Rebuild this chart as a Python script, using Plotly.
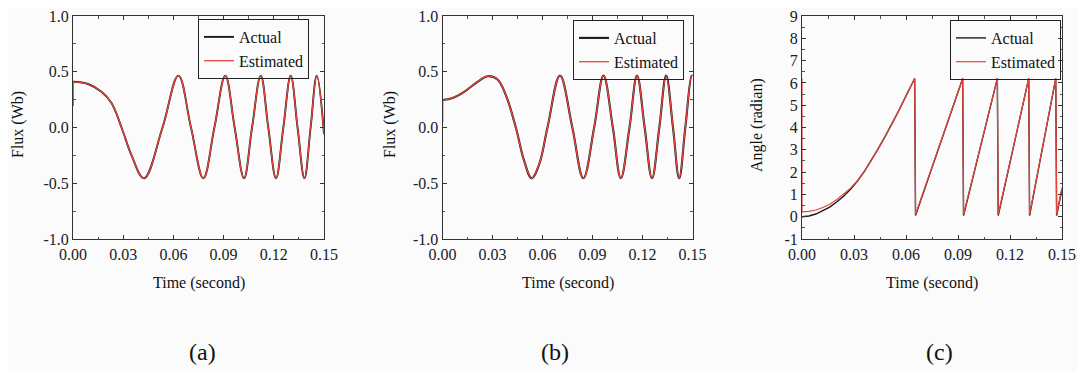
import plotly.graph_objects as go

# ---------------- data ----------------
# Panel (a): flux alpha
t_flux_a = [0, 0.009, 0.017, 0.023, 0.029, 0.035, 0.0424, 0.0535, 0.063, 0.0705,
            0.0779, 0.0845, 0.091, 0.0966, 0.1022, 0.107, 0.1122, 0.1167, 0.1213,
            0.1257, 0.1301, 0.1342, 0.1383, 0.142, 0.1457, 0.15]
flux_a_actual = [0.41, 0.39, 0.32, 0.22, 0.0, -0.25, -0.455, 0.0, 0.465, 0.0,
                 -0.455, 0.0, 0.465, 0.0, -0.455, 0.0, 0.465, 0.0, -0.455,
                 0.0, 0.465, 0.0, -0.455, 0.0, 0.465, -0.06]
flux_a_estimated = [0.41, 0.39, 0.32, 0.22, 0.0, -0.25, -0.455, 0.0, 0.465, 0.0,
                    -0.455, 0.0, 0.465, 0.0, -0.455, 0.0, 0.465, 0.0, -0.455,
                    0.0, 0.465, 0.0, -0.455, 0.0, 0.465, -0.06]
flux_a_est_start = [0.19, 0.41]   # initial transient of the estimate at t = 0

# Panel (b): flux beta
t_flux_b = [0, 0.006, 0.013, 0.021, 0.0273, 0.033, 0.038, 0.044, 0.049, 0.0535,
            0.058, 0.063, 0.0705, 0.0779, 0.0845, 0.091, 0.0966, 0.1022, 0.107,
            0.1122, 0.1167, 0.1213, 0.1257, 0.1301, 0.1342, 0.1383, 0.142,
            0.1457, 0.1495, 0.15]
flux_b_actual = [0.246, 0.265, 0.32, 0.41, 0.46, 0.43, 0.29, 0.0, -0.3, -0.455,
                 -0.33, 0.0, 0.465, 0.0, -0.455, 0.0, 0.465, 0.0, -0.455,
                 0.0, 0.465, 0.0, -0.455, 0.0, 0.465, 0.0, -0.455,
                 0.0, 0.465, 0.46]
flux_b_estimated = [0.246, 0.265, 0.32, 0.41, 0.46, 0.43, 0.29, 0.0, -0.3, -0.455,
                    -0.33, 0.0, 0.465, 0.0, -0.455, 0.0, 0.465, 0.0, -0.455,
                    0.0, 0.465, 0.0, -0.455, 0.0, 0.465, 0.0, -0.455,
                    0.0, 0.465, 0.46]
flux_b_est_start = [0.05, 0.246]

# Panel (c): rotor flux angle
t_angle_actual = [0, 0.004, 0.008, 0.012, 0.016, 0.02, 0.024, 0.028, 0.032, 0.036,
                  0.04, 0.044, 0.048, 0.052, 0.056, 0.06, 0.065, 0.0655,
                  0.0927, 0.0932, 0.1127, 0.1132, 0.1308, 0.1313, 0.1464, 0.1469, 0.15]
angle_actual = [0.0, 0.03, 0.12, 0.26, 0.43, 0.66, 0.92, 1.23, 1.6, 2.03,
                2.52, 3.05, 3.6, 4.17, 4.78, 5.42, 6.2, 0.05,
                6.2, 0.05, 6.2, 0.05, 6.2, 0.05, 6.2, 0.05, 1.25]
t_angle_estimated = [0, 0, 0.004, 0.008, 0.012, 0.016, 0.02, 0.024, 0.028, 0.032, 0.036,
                     0.04, 0.044, 0.048, 0.052, 0.056, 0.06, 0.065, 0.0655,
                     0.0927, 0.0932, 0.1127, 0.1132, 0.1308, 0.1313, 0.1464, 0.1469, 0.15]
angle_estimated = [6.2, 0.22, 0.24, 0.3, 0.41, 0.56, 0.76, 1.0, 1.28, 1.62, 2.04,
                   2.52, 3.05, 3.6, 4.17, 4.78, 5.42, 6.2, 0.1,
                   6.2, 0.1, 6.2, 0.1, 6.2, 0.1, 6.2, 0.1, 1.3]

# axis ticks / labels
x_ticks = [0, 0.03, 0.06, 0.09, 0.12, 0.15]
x_ticktext = ["0.00", "0.03", "0.06", "0.09", "0.12", "0.15"]
flux_ticks = [-1.0, -0.5, 0.0, 0.5, 1.0]
flux_ticktext = ["-1.0", "-0.5", "0.0", "0.5", "1.0"]
angle_ticks = [-1, 0, 1, 2, 3, 4, 5, 6, 7, 8, 9]
angle_ticktext = ["-1", "0", "1", "2", "3", "4", "5", "6", "7", "8", "9"]
panel_labels = ["(a)", "(b)", "(c)"]
y_titles = ["Flux (Wb)", "Flux (Wb)", "Angle (radian)"]
x_title = "Time (second)"
series_names = ["Actual", "Estimated"]

# ---------------- styling ----------------
W, H = 1085, 371
OFF = 8          # the page body offsets the figure by 8 px
FONT = "Liberation Serif"
BLACK = "#1b1b1b"
RED = "#e8453c"
BG = "#fbfbfc"

def px_x(p):
    return (p - OFF) / W

def px_y(p):
    return 1 - (p - OFF) / H

dom_x = [(73, 324), (442.5, 692.5), (802, 1062)]
dom_y = (16, 239)

fig = go.Figure()

BW, RW = 1.9, 1.3   # black (actual) drawn underneath, red (estimate) on top

# panel (a)
fig.add_trace(go.Scatter(x=t_flux_a, y=flux_a_actual, mode="lines", name=series_names[0],
                         line=dict(color=BLACK, width=BW, shape="spline", smoothing=1.1),
                         xaxis="x", yaxis="y", legend="legend", legendrank=1))
fig.add_trace(go.Scatter(x=t_flux_a, y=flux_a_estimated, mode="lines", name=series_names[1],
                         line=dict(color=RED, width=RW, shape="spline", smoothing=1.1),
                         xaxis="x", yaxis="y", legend="legend", legendrank=2))
fig.add_trace(go.Scatter(x=[0, 0], y=flux_a_est_start, mode="lines", showlegend=False,
                         line=dict(color=RED, width=1.8), xaxis="x", yaxis="y"))

# panel (b)
fig.add_trace(go.Scatter(x=t_flux_b, y=flux_b_actual, mode="lines", name=series_names[0],
                         line=dict(color=BLACK, width=BW + 0.2, shape="spline", smoothing=1.1),
                         xaxis="x2", yaxis="y2", legend="legend2", legendrank=1))
fig.add_trace(go.Scatter(x=t_flux_b, y=flux_b_estimated, mode="lines", name=series_names[1],
                         line=dict(color=RED, width=RW, shape="spline", smoothing=1.1),
                         xaxis="x2", yaxis="y2", legend="legend2", legendrank=2))
fig.add_trace(go.Scatter(x=[0, 0], y=flux_b_est_start, mode="lines", showlegend=False,
                         line=dict(color=RED, width=1.8), xaxis="x2", yaxis="y2"))

# panel (c)
fig.add_trace(go.Scatter(x=t_angle_actual, y=angle_actual, mode="lines", name=series_names[0],
                         line=dict(color=BLACK, width=1.4),
                         xaxis="x3", yaxis="y3", legend="legend3", legendrank=1))
fig.add_trace(go.Scatter(x=t_angle_estimated, y=angle_estimated, mode="lines", name=series_names[1],
                         line=dict(color=RED, width=1.2),
                         xaxis="x3", yaxis="y3", legend="legend3", legendrank=2))

tickfont = dict(family=FONT, size=16, color="#202020")

def xaxis(i):
    return dict(domain=[px_x(dom_x[i][0]), px_x(dom_x[i][1])], anchor="y" if i == 0 else f"y{i+1}",
                range=[0, 0.15], tickvals=x_ticks, ticktext=x_ticktext,
                ticks="inside", ticklen=4, tickcolor="#333", tickwidth=1,
                minor=dict(dtick=0.015, tick0=0, ticks="inside", ticklen=2.5, tickcolor="#555"),
                showline=True, linecolor="#333", linewidth=1, mirror="ticks",
                showgrid=False, zeroline=False, tickfont=tickfont, fixedrange=True,
                automargin=False, ticklabeloverflow="allow", ticklabelstandoff=1)

def yaxis(i, ticks, text, rng, minor_dtick):
    return dict(domain=[px_y(dom_y[1]), px_y(dom_y[0])], anchor="x" if i == 0 else f"x{i+1}",
                range=rng, tickvals=ticks, ticktext=text,
                ticks="inside", ticklen=4, tickcolor="#333", tickwidth=1,
                minor=dict(dtick=minor_dtick, tick0=0, ticks="inside", ticklen=2.5, tickcolor="#555"),
                showline=True, linecolor="#333", linewidth=1, mirror="ticks",
                showgrid=False, zeroline=False, tickfont=tickfont, fixedrange=True,
                automargin=False, ticklabeloverflow="allow")

legend_common = dict(xanchor="right", yanchor="top", bgcolor="rgba(255,255,255,0)",
                     bordercolor="#222", borderwidth=1,
                     font=dict(family=FONT, size=16, color="#111"),
                     tracegroupgap=0, itemwidth=30)

annotations = []
title_x = [18, 390, 757]
for i in range(3):
    cx = (dom_x[i][0] + dom_x[i][1]) / 2
    annotations.append(dict(x=px_x(cx), y=px_y(283), xref="paper", yref="paper",
                            xanchor="center", yanchor="middle",
                            text=x_title, showarrow=False,
                            font=dict(family=FONT, size=16, color="#111")))
    annotations.append(dict(x=px_x(title_x[i]), y=px_y(125), xref="paper", yref="paper",
                            xanchor="center", yanchor="middle",
                            text=y_titles[i], textangle=-90, showarrow=False,
                            font=dict(family=FONT, size=16, color="#111")))
label_x = [202, 555, 939]
for i in range(3):
    annotations.append(dict(x=px_x(label_x[i]), y=px_y(352), xref="paper", yref="paper",
                            xanchor="center", yanchor="middle",
                            text=panel_labels[i], showarrow=False,
                            font=dict(family=FONT, size=24, color="#111")))

fig.update_layout(
    width=W, height=H,
    margin=dict(l=0, r=0, t=0, b=0, autoexpand=False),
    paper_bgcolor=BG, plot_bgcolor=BG,
    xaxis=xaxis(0), xaxis2=xaxis(1), xaxis3=xaxis(2),
    yaxis=yaxis(0, flux_ticks, flux_ticktext, [-1, 1], 0.25),
    yaxis2=yaxis(1, flux_ticks, flux_ticktext, [-1, 1], 0.25),
    yaxis3=yaxis(2, angle_ticks, angle_ticktext, [-1, 9], 0.5),
    legend=dict(x=px_x(309), y=px_y(19), **legend_common),
    legend2=dict(x=px_x(684), y=px_y(20), **legend_common),
    legend3=dict(x=px_x(1061), y=px_y(20), **legend_common),
    annotations=annotations,
    showlegend=True,
)

fig.write_html("out.html")
